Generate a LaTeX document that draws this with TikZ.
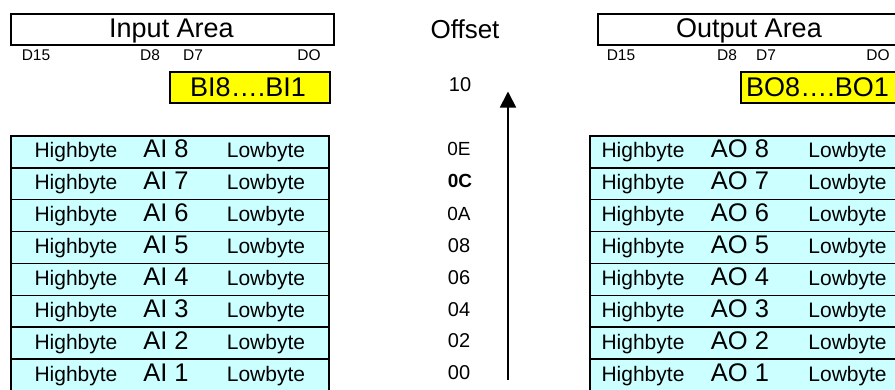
\documentclass[tikz,border=0pt]{standalone}
\usepackage{fontspec}
\setmainfont{Liberation Sans}
\usetikzlibrary{arrows.meta}
\definecolor{cellcyan}{HTML}{CCFFFF}
\definecolor{byellow}{HTML}{FFFF00}
\newcommand{\fsz}[1]{\fontsize{#1}{#1}\selectfont}
\tikzset{
  box/.style={draw=black, line width=1.6pt, rectangle, inner sep=0pt, anchor=north west},
  areabox/.style={box, fill=white, minimum width=323pt, minimum height=31pt},
  bitbox/.style={box, fill=byellow, minimum width=160pt, minimum height=31pt},
  rowbox/.style={box, fill=cellcyan, minimum width=318pt, minimum height=31.9pt},
  lbl/.style={inner sep=0pt, anchor=base},
  bitlbl/.style={lbl, font=\fsz{15.5}},
  bytelbl/.style={lbl, font=\fsz{21}},
  chanlbl/.style={lbl, font=\fsz{25.5}},
  offlbl/.style={lbl, font=\fsz{20}},
}
\begin{document}
\begin{tikzpicture}[x=1pt, y=-1pt]
\useasboundingbox (0,0) rectangle (895,389);
\clip (0,0) rectangle (895,389);

% Input side
\node[areabox] (inarea) at (10,13) {};
\node[lbl, font=\fsz{27}] (inareat) at (171.5,37.5) {Input Area};
\node[bitlbl] (in15) at (36,60.5) {D15};
\node[bitlbl] (in8) at (150,60.5) {D8};
\node[bitlbl] (in7) at (193,60.5) {D7};
\node[bitlbl] (in0) at (309,60.5) {DO};
\node[bitbox] (bibox) at (169,71) {};
\node[lbl, font=\fsz{27}] (bitext) at (248,96.5) {BI8….BI1};

% Output side
\node[areabox] (outarea) at (597,13) {};
\node[lbl, font=\fsz{27}] (outareat) at (749,37.5) {Output Area};
\node[bitlbl] (out15) at (621,60.5) {D15};
\node[bitlbl] (out8) at (727,60.5) {D8};
\node[bitlbl] (out7) at (766,60.5) {D7};
\node[bitlbl] (out0) at (878,60.5) {DO};
\node[bitbox] (bobox) at (740,71) {};
\node[lbl, font=\fsz{27}] (botext) at (817.5,96.5) {BO8….BO1};

% Tables
\foreach \i in {1,...,8} {
  \pgfmathsetmacro\rt{135+(8-\i)*31.9}
  \node[rowbox] (inrow\i) at (10,\rt) {};
  \node[bytelbl] (inhi\i) at (76,\rt+22.7) {Highbyte};
  \node[chanlbl] (inch\i) at (166,\rt+22.7) {AI \i};
  \node[bytelbl] (inlo\i) at (266,\rt+22.7) {Lowbyte};
  \node[rowbox] (outrow\i) at (589,\rt) {};
  \node[bytelbl] (outhi\i) at (643,\rt+22.7) {Highbyte};
  \node[chanlbl] (outch\i) at (740,\rt+22.7) {AO \i};
  \node[bytelbl] (outlo\i) at (847.5,\rt+22.7) {Lowbyte};
}

% Offsets
\node[lbl, font=\fsz{26}] (offset) at (465,38.3) {Offset};
\node[offlbl] (o10) at (460,91.7) {10};
\node[offlbl, font=\fsz{19}] (o0E) at (459,155.7) {0E};
\node[offlbl, font=\fsz{19}\bfseries] (o0C) at (460,187.7) {0C};
\node[offlbl, font=\fsz{19}] (o0A) at (459,220) {0A};
\node[offlbl] (o08) at (459,252.3) {08};
\node[offlbl] (o06) at (459,284) {06};
\node[offlbl] (o04) at (459,316) {04};
\node[offlbl] (o02) at (459,347.7) {02};
\node[offlbl] (o00) at (459,379) {00};

\coordinate (abot) at (508,380);
\coordinate (atop) at (508,91.5);
\draw[line width=1.8pt, -{Triangle[width=16pt,length=16pt]}] (abot) -- (atop);
\end{tikzpicture}
\end{document}
